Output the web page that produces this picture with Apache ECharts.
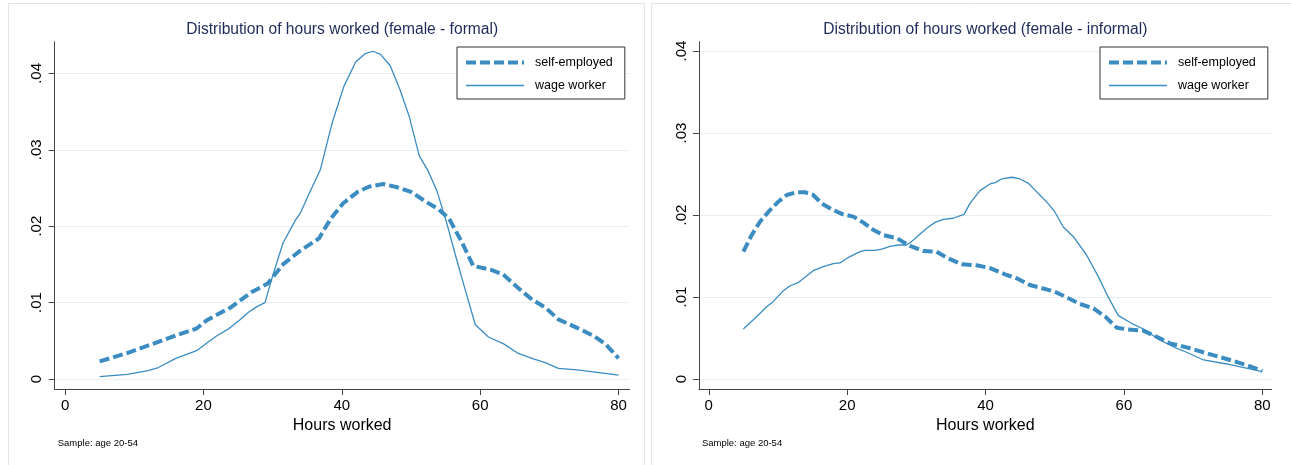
<!DOCTYPE html>
<html>
<head>
<meta charset="utf-8">
<script src="https://cdn.jsdelivr.net/npm/echarts@6/dist/echarts.min.js"></script>
<style>
  html, body { margin: 0; padding: 0; background: #ffffff; }
  #chart { width: 1291px; height: 465px; }
</style>
</head>
<body>
<div id="chart"></div>
<script>
// Tick positions
const xTicks = [0, 20, 40, 60, 80];
const yTicks = [0, 0.01, 0.02, 0.03, 0.04];

// Kernel density of weekly hours worked, formal sector
const formalSelfHours = [5, 9, 13, 16, 19, 20.5, 24, 27, 29.3, 31.5, 34, 36.7, 38.4, 40.2, 42.3, 44, 46, 48, 50, 52, 54, 55.5, 57.3, 59, 61.5, 63.3, 65.5, 67.5, 69.5, 71.3, 74, 76.5, 78.2, 80];
const formalSelfDensity = [0.0023, 0.0034, 0.0047, 0.0057, 0.0066, 0.0077, 0.0094, 0.0114, 0.0125, 0.0150, 0.0168, 0.0184, 0.0210, 0.0230, 0.0245, 0.0252, 0.02552, 0.0251, 0.0245, 0.0233, 0.0222, 0.0210, 0.0180, 0.0148, 0.0143, 0.0137, 0.0119, 0.0104, 0.0093, 0.0078, 0.0067, 0.0056, 0.0045, 0.0027];

const formalWageHours = [5, 9, 12, 13.5, 16, 19, 20.5, 22, 23.7, 25.2, 26.6, 27.8, 28.9, 30, 31.5, 33.3, 34, 35.3, 36.9, 38.6, 40.3, 42, 43.4, 44.5, 45.6, 47, 48.4, 49.7, 51.2, 52.5, 53.8, 55.2, 56.4, 57.8, 59.3, 61.2, 63.4, 65.4, 67.8, 69.5, 71.3, 74, 80];
const formalWageDensity = [0.0003, 0.0006, 0.0011, 0.0015, 0.0027, 0.0037, 0.0047, 0.0057, 0.0066, 0.0077, 0.0088, 0.0095, 0.0100, 0.0135, 0.0178, 0.0208, 0.0217, 0.0243, 0.0274, 0.0335, 0.0383, 0.0415, 0.0426, 0.0429, 0.0425, 0.0410, 0.0379, 0.0345, 0.0292, 0.0272, 0.0245, 0.0203, 0.0163, 0.0118, 0.0071, 0.0055, 0.0046, 0.0034, 0.0026, 0.0021, 0.0014, 0.0012, 0.0005];

// Kernel density of weekly hours worked, informal sector
const informalSelfHours = [5, 6.2, 7.4, 8.85, 10.05, 11.26, 12.7, 13.9, 15.1, 16.3, 18, 19.4, 20.9, 22.3, 23.8, 25.2, 27.2, 29.1, 31, 32.9, 34.6, 36.55, 38.7, 40.64, 43.05, 44.5, 46.4, 47.9, 50, 51.7, 53.65, 55.6, 57.3, 58.95, 60.4, 62.8, 64.7, 66.65, 69.07, 71.96, 74.85, 77.7, 80];
const informalSelfDensity = [0.01553, 0.01756, 0.01918, 0.0206, 0.02162, 0.02244, 0.02277, 0.02277, 0.02244, 0.02142, 0.0206, 0.02008, 0.0198, 0.0191, 0.01817, 0.01756, 0.01716, 0.01622, 0.01561, 0.01553, 0.01470, 0.01400, 0.01386, 0.01353, 0.01268, 0.01228, 0.01146, 0.01114, 0.01065, 0.00996, 0.00915, 0.00862, 0.0076, 0.00626, 0.00606, 0.00589, 0.00516, 0.00435, 0.00386, 0.00313, 0.00244, 0.00171, 0.00098];

const informalWageHours = [5, 6.9, 8.37, 9.3, 10.77, 11.7, 12.9, 13.9, 15.1, 16.55, 18, 18.96, 20.2, 21.85, 22.6, 24, 25, 26.2, 27.4, 28.6, 29.3, 30.5, 31.5, 32.7, 33.9, 35.3, 36.9, 37.75, 39.2, 40.64, 41.4, 42.33, 43.8, 45, 46.2, 47.6, 48.8, 50, 51.2, 52.7, 54.6, 56.3, 57.7, 59.2, 61.1, 62.8, 65.2, 67.4, 69.07, 71.5, 74.85, 80];
const informalWageDensity = [0.0061, 0.0076, 0.00882, 0.00943, 0.01077, 0.01134, 0.01174, 0.0124, 0.01321, 0.0137, 0.01406, 0.01415, 0.01484, 0.01553, 0.01569, 0.01569, 0.01585, 0.01618, 0.01634, 0.01634, 0.01675, 0.01764, 0.01838, 0.0191, 0.01947, 0.0196, 0.02008, 0.02142, 0.02297, 0.02378, 0.02394, 0.02439, 0.0246, 0.02439, 0.02386, 0.02264, 0.02163, 0.0204, 0.01857, 0.01735, 0.01512, 0.01248, 0.01004, 0.00772, 0.00679, 0.0061, 0.00476, 0.00382, 0.00326, 0.00232, 0.00183, 0.00089];

const seriesNames = ['self-employed', 'wage worker'];
const panelTitles = ['Distribution of hours worked (female - formal)', 'Distribution of hours worked (female - informal)'];
const xAxisTitle = 'Hours worked';
const noteText = 'Sample: age 20-54';

const LINE_COLOR = '#3a8cc1';
const AXIS_COLOR = '#444444';
const GRID_COLOR = '#e6eff1';
const FONT = '"Liberation Sans", Arial, Helvetica, sans-serif';

function zip(xs, ys) { return xs.map((x, i) => [x, ys[i]]); }
function yFmt(v) { return v === 0 ? '0' : v.toFixed(2).replace(/^0\./, '.'); }

// Panel geometry (pixels) and axis extents
const panels = [
  { left: 54.7, top: 41.7, width: 574.9, height: 347.3, xMin: -1.5, xMax: 81.6, yMin: -0.00131, yMax: 0.04415, legendLeft: 457 },
  { left: 698.9, top: 41.7, width: 572.8, height: 347.3, xMin: -1.43, xMax: 81.36, yMin: -0.00122, yMax: 0.04113, legendLeft: 1100 }
];

const chart = echarts.init(document.getElementById('chart'), null, { renderer: 'canvas' });

const grids = panels.map(p => ({ left: p.left, top: p.top, width: p.width, height: p.height, containLabel: false }));

const xAxes = panels.map((p, i) => ({
  type: 'value', gridIndex: i, min: p.xMin, max: p.xMax,
  name: xAxisTitle, nameLocation: 'middle', nameGap: 27,
  nameTextStyle: { fontFamily: FONT, fontSize: 16, color: '#000' },
  axisLine: { onZero: false, lineStyle: { color: AXIS_COLOR, width: 1 } },
  axisTick: { show: true, length: 6, customValues: xTicks, lineStyle: { color: AXIS_COLOR } },
  axisLabel: { customValues: xTicks, margin: 9, fontFamily: FONT, fontSize: 15, color: '#000' },
  splitLine: { show: false }
}));

const yAxes = panels.map((p, i) => ({
  type: 'value', gridIndex: i, min: p.yMin, max: p.yMax,
  axisLine: { show: true, onZero: false, lineStyle: { color: AXIS_COLOR, width: 1 } },
  axisTick: { show: true, length: 6, customValues: yTicks, lineStyle: { color: AXIS_COLOR } },
  axisLabel: { customValues: yTicks, rotate: 90, margin: 10, fontFamily: FONT, fontSize: 15, color: '#000', formatter: yFmt },
  splitLine: { show: true, lineStyle: { color: GRID_COLOR, width: 1.2 } }
}));

const dashStyle = { width: 4, type: [10, 4], color: LINE_COLOR };
const solidStyle = { width: 1.3, type: 'solid', color: LINE_COLOR };

function lineSeries(name, idx, data, style) {
  return {
    type: 'line', name: name, xAxisIndex: idx, yAxisIndex: idx,
    data: data, showSymbol: false, symbol: 'none', smooth: false,
    lineStyle: style, itemStyle: { color: LINE_COLOR }, animation: false
  };
}

const series = [
  lineSeries(seriesNames[0], 0, zip(formalSelfHours, formalSelfDensity), dashStyle),
  lineSeries(seriesNames[1], 0, zip(formalWageHours, formalWageDensity), solidStyle),
  lineSeries(seriesNames[0], 1, zip(informalSelfHours, informalSelfDensity), dashStyle),
  lineSeries(seriesNames[1], 1, zip(informalWageHours, informalWageDensity), solidStyle)
];

// Legend keys: line only, with the same width and dash as the plotted lines
const legends = panels.map(p => ({
  data: [
    { name: seriesNames[0], lineStyle: { width: dashStyle.width, type: dashStyle.type, color: LINE_COLOR } },
    { name: seriesNames[1], lineStyle: { width: solidStyle.width, type: 'solid', color: LINE_COLOR } }
  ],
  orient: 'vertical', left: p.legendLeft, top: 47,
  itemWidth: 58, itemHeight: 14, itemGap: 10, padding: [9, 12, 7, 7],
  backgroundColor: '#ffffff', borderColor: '#333333', borderWidth: 1,
  selectedMode: false,
  itemStyle: { color: 'rgba(0,0,0,0)', borderColor: 'rgba(0,0,0,0)', borderWidth: 0, opacity: 0 },
  textStyle: { fontFamily: FONT, fontSize: 12.5, color: '#000', padding: [0, 0, 0, 6] }
}));

const titles = [];
panels.forEach((p, i) => {
  titles.push({
    text: panelTitles[i], left: p.left + p.width / 2, top: 22, textAlign: 'center', padding: 0,
    textStyle: { fontFamily: FONT, fontSize: 15.6, fontWeight: 'normal', color: '#1e2b5a' }
  });
  titles.push({
    text: noteText, left: p.left + 3, top: 438, padding: 0,
    textStyle: { fontFamily: FONT, fontSize: 9.5, fontWeight: 'normal', color: '#000' }
  });
});

const panelFrames = [
  { type: 'rect', shape: { x: 8.5, y: 3.5, width: 636, height: 470 }, style: { fill: 'none', stroke: '#e2e6e9', lineWidth: 1 }, z: -1, silent: true },
  { type: 'rect', shape: { x: 651.5, y: 3.5, width: 640, height: 470 }, style: { fill: 'none', stroke: '#e2e6e9', lineWidth: 1 }, z: -1, silent: true }
];

chart.setOption({
  backgroundColor: '#ffffff',
  animation: false,
  title: titles,
  legend: legends,
  grid: grids,
  xAxis: xAxes,
  yAxis: yAxes,
  series: series,
  graphic: panelFrames
});
</script>
</body>
</html>
